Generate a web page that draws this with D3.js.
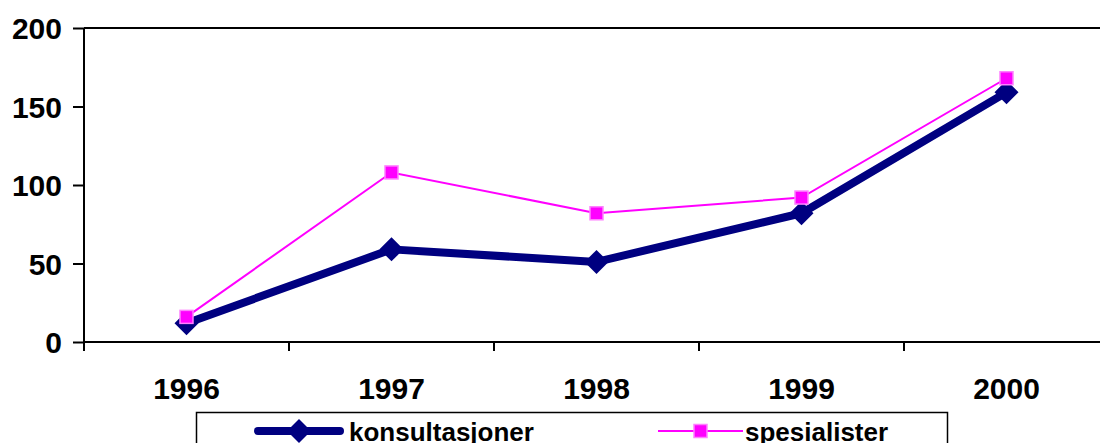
<!DOCTYPE html>
<html><head><meta charset="utf-8">
<script src="https://cdn.jsdelivr.net/npm/d3@7"></script>
<style>body{margin:0;background:#fff}svg{display:block}text{font-family:"Liberation Sans",Arial,sans-serif;font-weight:bold}</style>
</head><body><svg id="c" width="1100" height="443"></svg>
<script>
const years = ["1996","1997","1998","1999","2000"];
const konsultasjoner = [12, 59, 51, 82, 159];
const spesialister = [16, 108, 82, 92, 168];
const yTicks = [0, 50, 100, 150, 200];

const svg = d3.select("#c");
const L = 84, R = 1109, T = 28, B = 342;
const x = d3.scaleBand().domain(years).range([L, R]);
const y = d3.scaleLinear().domain([0, 200]).range([B, T]);
const cx = d => x(d) + x.bandwidth() / 2;

svg.append("path").attr("d", `M${L},${T}H${R}V${B}`).attr("fill","none").attr("stroke","#000").attr("stroke-width",2);

const ya = svg.append("g").attr("transform", `translate(${L},0)`)
  .call(d3.axisLeft(y).tickValues(yTicks).tickSize(11).tickPadding(11));
ya.select(".domain").attr("stroke","#000").attr("stroke-width",2).attr("d", `M0,${B}V${T}`);
ya.selectAll(".tick line").attr("stroke","#000").attr("stroke-width",2);
ya.selectAll(".tick text").attr("font-size",30).attr("font-family","Liberation Sans, Arial, sans-serif").attr("font-weight","bold").attr("fill","#000").attr("dy","0.36em");

const xa = svg.append("g").attr("transform", `translate(0,${B})`)
  .call(d3.axisBottom(x).tickSize(0).tickPadding(36));
xa.select(".domain").attr("stroke","#000").attr("stroke-width",2).attr("d", `M${L},0H${R}`);
xa.selectAll(".tick text").attr("font-size",30).attr("font-family","Liberation Sans, Arial, sans-serif").attr("font-weight","bold").attr("fill","#000");
svg.append("g").selectAll("line").data(d3.range(years.length + 1)).join("line")
  .attr("x1", i => L + i * x.step()).attr("x2", i => L + i * x.step())
  .attr("y1", B).attr("y2", B + 9).attr("stroke","#000").attr("stroke-width",2);

const line = d3.line().x((d,i) => cx(years[i])).y(d => y(d));

svg.append("path").datum(konsultasjoner).attr("d", line).attr("fill","none")
  .attr("stroke","#000080").attr("stroke-width",8).attr("stroke-linejoin","round");
const diamond = s => `M0,${-s}L${s},0L0,${s}L${-s},0Z`;
svg.append("g").selectAll("path").data(konsultasjoner).join("path")
  .attr("transform",(d,i)=>`translate(${cx(years[i])},${y(d)})`)
  .attr("d", diamond(12)).attr("fill","#000080");

svg.append("path").datum(spesialister).attr("d", line).attr("fill","none")
  .attr("stroke","#FF00FF").attr("stroke-width",2);
svg.append("g").selectAll("rect").data(spesialister).join("rect")
  .attr("x",(d,i)=>cx(years[i])-6.5).attr("y",d=>y(d)-6.5).attr("width",13).attr("height",13)
  .attr("fill","#FF00FF").attr("stroke","#FF80FF").attr("stroke-width",1.5);

const lg = svg.append("g");
lg.append("rect").attr("x",196.5).attr("y",412.5).attr("width",751).attr("height",60)
  .attr("fill","#fff").attr("stroke","#000").attr("stroke-width",1.5);
lg.append("line").attr("x1",258).attr("x2",340).attr("y1",431).attr("y2",431)
  .attr("stroke","#000080").attr("stroke-width",8).attr("stroke-linecap","round");
lg.append("path").attr("transform","translate(299,431)").attr("d",diamond(12)).attr("fill","#000080");
lg.append("text").attr("x",349).attr("y",441).attr("font-size",26).text("konsultasjoner");
lg.append("line").attr("x1",658).attr("x2",743).attr("y1",431).attr("y2",431)
  .attr("stroke","#FF00FF").attr("stroke-width",2);
lg.append("rect").attr("x",694).attr("y",424.5).attr("width",13).attr("height",13)
  .attr("fill","#FF00FF").attr("stroke","#FF80FF").attr("stroke-width",1.5);
lg.append("text").attr("x",745).attr("y",441).attr("font-size",26).text("spesialister");
</script></body></html>
